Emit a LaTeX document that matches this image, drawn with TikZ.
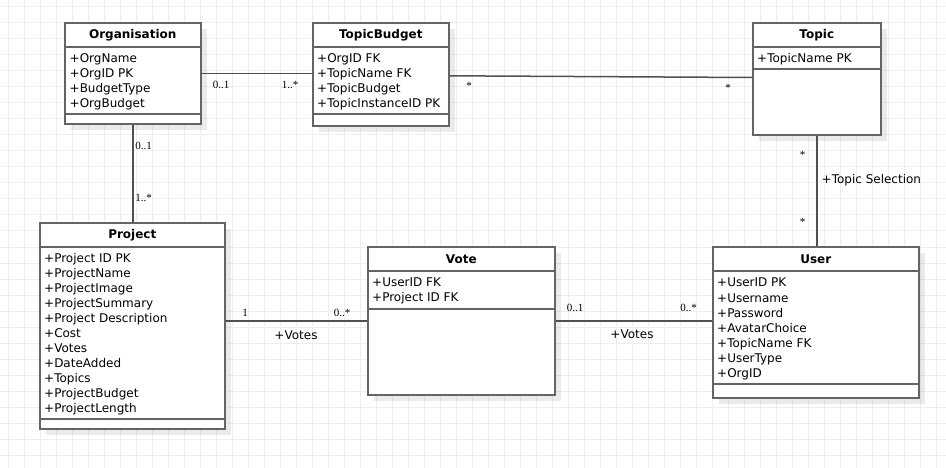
\documentclass[tikz,border=0pt]{standalone}
\usepackage{fontspec}
\setmainfont{DejaVu Sans}
\newfontfamily\multfont{Liberation Serif}
\usetikzlibrary{
  positioning,
  calc,
  shadows
}
\definecolor{umlLine}{HTML}{646464}
\definecolor{umlLink}{HTML}{505050}
\definecolor{umlGrid}{HTML}{EEEEEE}
\tikzset{
  classbox/.style={
    draw=umlLine, line width=1.6pt, fill=white, anchor=north west, inner sep=0pt,
    drop shadow={shadow xshift=6pt, shadow yshift=-6pt, fill=black, opacity=0.08}
  },
  classname/.style={font=\fontsize{12}{15}\selectfont\bfseries, anchor=base, inner sep=0pt},
  attr/.style={font=\fontsize{12}{15}\selectfont, anchor=base west, inner sep=0pt},
  divider/.style={draw=umlLine, line width=1.6pt},
  assoc/.style={draw=umlLink, line width=1.5pt},
  mult/.style={font=\multfont\fontsize{11}{13}\selectfont, anchor=base, inner sep=0pt},
  role/.style={font=\fontsize{12}{15}\selectfont, anchor=base, inner sep=0pt},
  gridline/.style={draw=umlGrid, line width=1pt}
}

\begin{document}
\begin{tikzpicture}[x=1pt, y=-1pt]
  \useasboundingbox (0,0) rectangle (946,468);
  \fill[white] (0,0) rectangle (946,468);
  % background grid
  \foreach \gx in {0,...,58}
    \draw[gridline] ({8.5+16*\gx},0) -- ({8.5+16*\gx},468);
  \foreach \gy in {0,...,28}
    \draw[gridline] (0,{7+16*\gy}) -- (946,{7+16*\gy});

  % Organisation
  \node[classbox, minimum width=136, minimum height=101] (org) at (64,22) {};
  \node[classname] (orgname) at ($(org.north)+(0,17)$) {Organisation};
  \draw[divider] ($(org.north west)+(0,25)$) -- ($(org.north east)+(0,25)$);
  \draw[divider] ($(org.north west)+(0,92)$) -- ($(org.north east)+(0,92)$);
  \foreach \a [count=\i from 0] in {+OrgName, +OrgID PK, +BudgetType, +OrgBudget}
    \node[attr] (org-a\i) at ($(org.north west)+(5.5,40.5+15*\i)$) {\a};

  % TopicBudget
  \node[classbox, minimum width=136, minimum height=103] (tb) at (312,22) {};
  \node[classname] (tbname) at ($(tb.north)+(0,17)$) {TopicBudget};
  \draw[divider] ($(tb.north west)+(0,25)$) -- ($(tb.north east)+(0,25)$);
  \draw[divider] ($(tb.north west)+(0,92)$) -- ($(tb.north east)+(0,92)$);
  \foreach \a [count=\i from 0] in {+OrgID FK, +TopicName FK, +TopicBudget, +TopicInstanceID PK}
    \node[attr] (tb-a\i) at ($(tb.north west)+(5,40.5+15*\i)$) {\a};

  % Topic
  \node[classbox, minimum width=128, minimum height=112] (topic) at (752,22) {};
  \node[classname] (topicname) at ($(topic.north)+(0,17)$) {Topic};
  \draw[divider] ($(topic.north west)+(0,25)$) -- ($(topic.north east)+(0,25)$);
  \draw[divider] ($(topic.north west)+(0,47)$) -- ($(topic.north east)+(0,47)$);
  \node[attr] (topic-a0) at ($(topic.north west)+(5,40.5)$) {+TopicName PK};

  % Project
  \node[classbox, minimum width=185, minimum height=206] (project) at (39,222) {};
  \node[classname] (projectname) at ($(project.north)+(0,17)$) {Project};
  \draw[divider] ($(project.north west)+(0,25)$) -- ($(project.north east)+(0,25)$);
  \draw[divider] ($(project.north west)+(0,197)$) -- ($(project.north east)+(0,197)$);
  \foreach \a [count=\i from 0] in {+Project ID PK, +ProjectName, +ProjectImage, +ProjectSummary,
      +Project Description, +Cost, +Votes, +DateAdded, +Topics, +ProjectBudget, +ProjectLength}
    \node[attr] (project-a\i) at ($(project.north west)+(5,40.5+15*\i)$) {\a};

  % Vote
  \node[classbox, minimum width=187, minimum height=148] (vote) at (367,246) {};
  \node[classname] (votename) at ($(vote.north)+(0,17)$) {Vote};
  \draw[divider] ($(vote.north west)+(0,25)$) -- ($(vote.north east)+(0,25)$);
  \draw[divider] ($(vote.north west)+(0,63)$) -- ($(vote.north east)+(0,63)$);
  \foreach \a [count=\i from 0] in {+UserID FK, +Project ID FK}
    \node[attr] (vote-a\i) at ($(vote.north west)+(5,40.5+15*\i)$) {\a};

  % User
  \node[classbox, minimum width=206, minimum height=151] (user) at (712,246) {};
  \node[classname] (username) at ($(user.north)+(0,17)$) {User};
  \draw[divider] ($(user.north west)+(0,25)$) -- ($(user.north east)+(0,25)$);
  \draw[divider] ($(user.north west)+(0,138)$) -- ($(user.north east)+(0,138)$);
  \foreach \a [count=\i from 0] in {+UserID PK, +Username, +Password, +AvatarChoice,
      +TopicName FK, +UserType, +OrgID}
    \node[attr] (user-a\i) at ($(user.north west)+(5,41+15*\i)$) {\a};

  % associations
  \draw[assoc] (org.east) -- (org.east -| tb.west);
  \draw[assoc] ([yshift=-1.5pt]tb.east) -- ([yshift=1.3pt]topic.west);
  \draw[assoc] (org.south) -- (org.south |- project.north);
  \draw[assoc] (vote.west -| project.east) -- (vote.west);
  \draw[assoc] (vote.east) -- (vote.east -| user.west);
  \draw[assoc] (topic.south) -- (topic.south |- user.north);

  % multiplicities and roles
  \node[mult] (m-org-tb) at (221,88.5) {0..1};
  \node[mult] (m-tb-org) at (290,88.5) {1..*};
  \node[mult] (m-tb-topic) at (469,89.5) {*};
  \node[mult] (m-topic-tb) at (728,91.5) {*};
  \node[mult] (m-org-project) at (143.5,150) {0..1};
  \node[mult] (m-project-org) at (143.5,202) {1..*};
  \node[mult] (m-project-vote) at (245,316) {1};
  \node[mult] (m-vote-project) at (342,316) {0..*};
  \node[role] (r-project-vote) at (296,339) {+Votes};
  \node[mult] (m-vote-user) at (575,311) {0..1};
  \node[mult] (m-user-vote) at (688.5,311) {0..*};
  \node[role] (r-vote-user) at (632,338) {+Votes};
  \node[mult] (m-topic-user) at (802.5,158.5) {*};
  \node[mult] (m-user-topic) at (802.5,225.5) {*};
  \node[role, anchor=base west] (r-topic-user) at (821.5,184) {+Topic Selection};
\end{tikzpicture}
\end{document}
